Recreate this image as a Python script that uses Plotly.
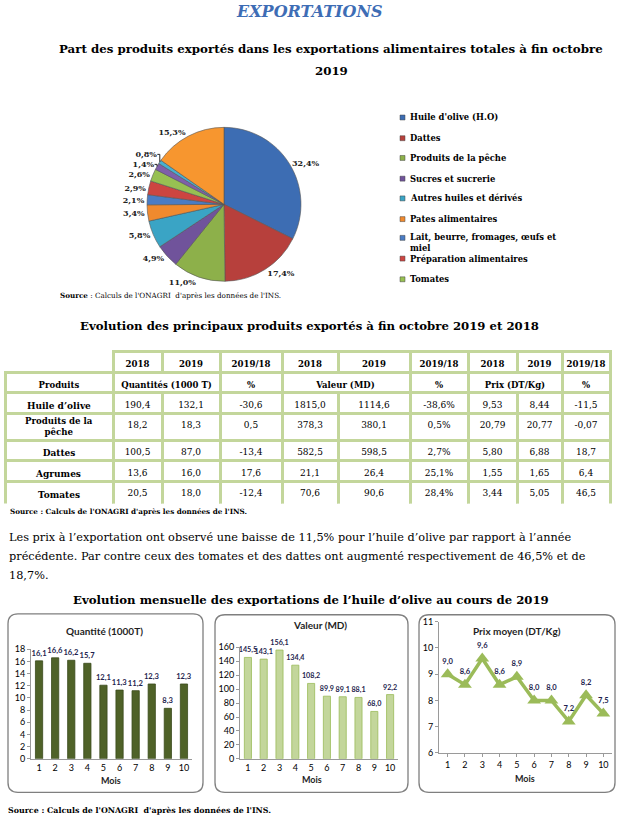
import plotly.graph_objects as go

W, H = 619, 825
def px(x): return x / W
def py(y): return 1 - y / H

SERIF = "DejaVu Serif"
SANS = "Lato"

# ---------------- Data ----------------
pie_labels = ["Huile d'olive (H.O)", "Dattes", "Produits de la pêche", "Sucres et sucrerie",
              "Autres huiles et dérivés", "Pates alimentaires",
              "Lait, beurre, fromages, œufs et<br>miel", "Préparation alimentaires", "Tomates",
              "Autre 1", "Autre 2", "Autre 3"]
pie_values = [32.4, 17.4, 11.0, 4.9, 5.8, 3.4, 2.1, 2.9, 2.6, 1.4, 0.8, 15.3]
legend_count = 9

products = ["Huile d’olive", "Produits de la<br>pêche", "Dattes", "Agrumes", "Tomates"]
qty_2018 = [190.4, 18.2, 100.5, 13.6, 20.5]
qty_2019 = [132.1, 18.3, 87.0, 16.0, 18.0]
qty_var = [-30.6, 0.5, -13.4, 17.6, -12.4]
val_2018 = [1815.0, 378.3, 582.5, 21.1, 70.6]
val_2019 = [1114.6, 380.1, 598.5, 26.4, 90.6]
val_var = [-38.6, 0.5, 2.7, 25.1, 28.4]
price_2018 = [9.53, 20.79, 5.80, 1.55, 3.44]
price_2019 = [8.44, 20.77, 6.88, 1.65, 5.05]
price_var = ["-11,5", "-0,07", "18,7", "6,4", "46,5"]
year_headers = ["2018", "2019", "2019/18", "2018", "2019", "2019/18", "2018", "2019", "2019/18"]
group_headers = ["Produits", "Quantités (1000 T)", "%", "Valeur (MD)", "%", "Prix (DT/Kg)", "%"]

months = [1, 2, 3, 4, 5, 6, 7, 8, 9, 10]
monthly_qty = [16.1, 16.6, 16.2, 15.7, 12.1, 11.3, 11.2, 12.3, 8.3, 12.3]
monthly_val = [145.5, 143.1, 156.1, 134.4, 108.2, 89.9, 89.1, 88.1, 68.0, 92.2]
monthly_price = [9.0, 8.6, 9.6, 8.6, 8.9, 8.0, 8.0, 7.2, 8.2, 7.5]

pie_colors = ["#3D6DB3", "#B7403C", "#8DB04A", "#70539B", "#3AA4C5", "#F08A2E",
              "#4A7CC4", "#CD4541", "#97C052", "#7E5FAA", "#47B0D0", "#F7962F"]

def fmt(v, d=1):
    return f"{v:.{d}f}".replace(".", ",")

fig = go.Figure()

# ---------------- Pie ----------------
fig.add_trace(go.Pie(
    labels=pie_labels, values=pie_values, sort=False, direction="clockwise", rotation=0,
    marker=dict(colors=pie_colors, line=dict(color="#555555", width=0.6)),
    texttemplate="<b>%{percent:.1%}</b>", textposition="outside",
    textfont=dict(family=SERIF, size=8, color="#222222"),
    showlegend=False, hoverinfo="label+percent",
    domain=dict(x=[px(146), px(302)], y=[py(279), py(123)]),
))

# ---------------- Table (one go.Table per row, to allow merged header cells) ----------------
border = dict(color="#C3D69B", width=3)
col_w = [108, 49, 58, 62, 56, 72, 58, 49, 45, 48]
group_w = [108, 107, 62, 128, 58, 94, 48]

def row_table(values, widths, x0, x1, ytop, h, size=9, bold=False):
    vals = [v.replace(" ", "\u00a0") if "<br>" not in v else v for v in values]
    vals = ["<b>%s</b>" % v if (bold and v) else v for v in vals]
    fig.add_trace(go.Table(
        domain=dict(x=[px(x0), px(x1)], y=[py(ytop + h + 3), py(ytop)]),
        columnwidth=widths,
        header=dict(values=vals, height=h, line=border, fill_color="white", align="center",
                    font=dict(family=SERIF, size=size, color="black")),
        cells=dict(values=[]),
    ))

row_table(year_headers, col_w[1:], 113, 610, 350, 21, size=8.6, bold=True)
row_table(group_headers, group_w, 5, 610, 371, 21, size=8.5, bold=True)

table_rows = list(zip(products, qty_2018, qty_2019, qty_var, val_2018, val_2019, val_var,
                      price_2018, price_2019, price_var))
row_tops = [392, 413, 440, 461, 482]
row_heights = [21, 27, 21, 21, 20]
ann = []
for (prod, a, b, c, d, e, f, g, hh, i), top, rh in zip(table_rows, row_tops, row_heights):
    first = "" if "<br>" in prod else "<b>%s</b>" % prod
    vals = [first, fmt(a), fmt(b), fmt(c), fmt(d), fmt(e), fmt(f) + "%", fmt(g, 2), fmt(hh, 2), i]
    row_table(vals, col_w, 5, 610, top, rh, size=9)
    if "<br>" in prod:
        ann.append(dict(x=px(59), y=py(top + rh / 2), xref="paper", yref="paper",
                        text="<b>%s</b>" % prod, showarrow=False, xanchor="center", yanchor="middle",
                        font=dict(family=SERIF, size=8.6, color="black")))

# ---------------- Monthly charts ----------------
lab_font = dict(family=SANS, size=7.6, color="#1F1F4F")
lab_font2 = dict(family=SANS, size=7.2, color="#1F1F4F")
fig.add_trace(go.Bar(x=months, y=monthly_qty, width=0.45, xaxis="x", yaxis="y",
                     marker=dict(color="#4F6228", line=dict(color="#3A4A1C", width=0.8)),
                     texttemplate="<b>%{y:.1f}</b>", textposition="outside", cliponaxis=False,
                     constraintext="none", textfont=lab_font, showlegend=False))
fig.add_trace(go.Bar(x=months, y=monthly_val, width=0.45, xaxis="x2", yaxis="y2",
                     marker=dict(color="#C3D69B", line=dict(color="#9BBB59", width=0.8)),
                     texttemplate="<b>%{y:.1f}</b>", textposition="outside", cliponaxis=False,
                     constraintext="none", textfont=lab_font2, showlegend=False))
fig.add_trace(go.Scatter(x=months, y=monthly_price, xaxis="x3", yaxis="y3",
                         mode="lines+markers+text", cliponaxis=False,
                         line=dict(color="#9BBB59", width=3.5),
                         marker=dict(symbol="triangle-up", size=12, color="#9BBB59"),
                         texttemplate="<b>%{y:.1f}</b>", textposition="top center",
                         textfont=lab_font, showlegend=False))

axis_font = dict(family=SANS, size=9, color="black")
def xax(x0, x1, anchor):
    return dict(domain=[px(x0), px(x1)], range=[0.5, 10.5], dtick=1, tick0=1, showgrid=False,
                zeroline=False, showline=True, linecolor="#9A9A9A", linewidth=1, ticks="",
                tickfont=axis_font, fixedrange=True, anchor=anchor)
def yax(y0, y1, r, d, anchor):
    return dict(domain=[py(y0), py(y1)], range=r, dtick=d, showgrid=False, zeroline=False,
                showline=True, linecolor="#9A9A9A", linewidth=1, ticks="outside", ticklen=3,
                tickcolor="#9A9A9A", tickfont=axis_font, anchor=anchor, fixedrange=True)

# ---------------- Annotations & shapes ----------------
def text(x, y, s, size, family=SERIF, color="black", xanchor="center", **kw):
    ann.append(dict(x=px(x), y=py(y), xref="paper", yref="paper", text=s, showarrow=False,
                    xanchor=xanchor, yanchor="middle", font=dict(family=family, size=size, color=color), **kw))

text(309, 6, "<b><i>EXPORTATIONS</i></b>", 16, color="#3E6DB5")
text(331, 44, "<b>Part des produits exportés dans les exportations alimentaires totales à fin octobre</b>", 11.8)
text(331, 66, "<b>2019</b>", 11.8)
text(58, 293, "<b>Source</b> : Calculs de l'ONAGRI  d'après les données de l'INS.", 7.2, xanchor="left")
text(309, 324, "<b>Evolution des principaux produits exportés à fin octobre 2019 et 2018</b>", 11.7)
text(8, 512, "<b>Source : Calculs de l'ONAGRI d'après les données de l'INS.</b>", 7.2, xanchor="left")
par_size = 11.3
text(7, 539, "Les prix à l’exportation ont observé une baisse de 11,5% pour l’huile d’olive par rapport à l’année", par_size, xanchor="left")
text(7, 558, "précédente. Par contre ceux des tomates et des dattes ont augmenté respectivement de 46,5% et de", par_size, xanchor="left")
text(7, 577, "18,7%.", par_size, xanchor="left")
text(311, 602, "<b>Evolution mensuelle des exportations de l’huile d’olive au cours de 2019</b>", 11.7)
text(6, 815, "<b>Source : Calculs de l'ONAGRI  d'après les données de l'INS.</b>", 7.9, xanchor="left")

# chart titles
text(105, 633, "<b>Quantité (1000T)</b>", 10, family=SANS, color="#1F1F1F")
text(320, 627, "<b>Valeur (MD)</b>", 10, family=SANS, color="#1F1F1F")
text(517, 633, "<b>Prix moyen (DT/Kg)</b>", 10, family=SANS, color="#1F1F1F")
text(111, 785, "<b>Mois</b>", 9, family=SANS, color="#1F1F1F")
text(312, 784, "<b>Mois</b>", 9, family=SANS, color="#1F1F1F")
text(525, 783, "<b>Mois</b>", 9, family=SANS, color="#1F1F1F")

shapes = []
# legend for pie
leg_y = [113, 134, 154, 175, 195, 216, 240, 256, 277]
for i in range(legend_count):
    yy = leg_y[i]
    text(408, yy, "<b>%s</b>" % pie_labels[i], 8.4, xanchor="left", align="left")
    ys = 235 if i == 6 else yy
    shapes.append(dict(type="rect", xref="paper", yref="paper", x0=px(400), x1=px(405),
                       y0=py(ys + 2.5), y1=py(ys - 2.5), fillcolor=pie_colors[i],
                       line=dict(color="#444444", width=0.5)))

def rounded_box(x0, y0, x1, y1, r=10):
    X0, X1 = px(x0), px(x1)
    Y0, Y1 = py(y0), py(y1)
    rx, ry = r / W, r / H
    p = (f"M {X0+rx},{Y0} L {X1-rx},{Y0} Q {X1},{Y0} {X1},{Y0-ry} L {X1},{Y1+ry} "
         f"Q {X1},{Y1} {X1-rx},{Y1} L {X0+rx},{Y1} Q {X0},{Y1} {X0},{Y1+ry} "
         f"L {X0},{Y0-ry} Q {X0},{Y0} {X0+rx},{Y0} Z")
    return dict(type="path", path=p, xref="paper", yref="paper",
                line=dict(color="#7F7F7F", width=1.3), layer="below")

shapes += [rounded_box(8, 616, 203, 797), rounded_box(215, 617, 408, 797),
           rounded_box(419, 617, 615, 797)]

x3 = xax(439, 612, "y3")
x3.update(ticks="outside", ticklen=3, tickcolor="#9A9A9A")
fig.update_layout(
    width=W, height=H, margin=dict(l=0, r=0, t=0, b=0), autosize=False,
    paper_bgcolor="white", plot_bgcolor="rgba(0,0,0,0)", separators=", ",
    showlegend=False, annotations=ann, shapes=shapes,
    xaxis=xax(31, 192, "y"), yaxis=yax(763, 652, [0, 18], 2, "x"),
    xaxis2=xax(240, 398, "y2"), yaxis2=yax(763, 650, [0, 160], 20, "x2"),
    xaxis3=x3, yaxis3=yax(757, 624, [6, 11], 1, "x3"),
)

fig.write_html("out.html", config={"displayModeBar": False},
               post_script="document.body.style.margin='0';")
